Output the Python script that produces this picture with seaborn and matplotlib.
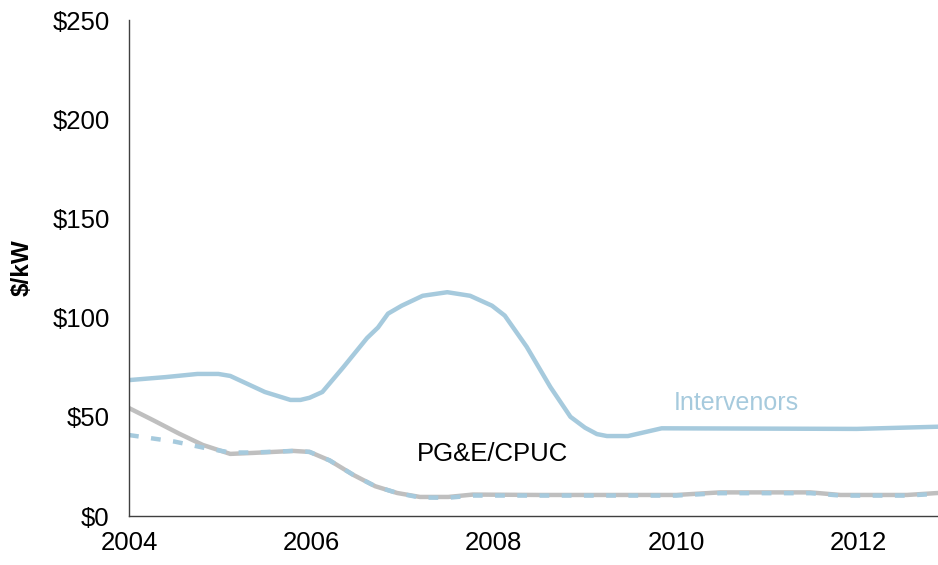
import numpy as np
import pandas as pd
import matplotlib
matplotlib.use("Agg")
import matplotlib.pyplot as plt
import seaborn as sns

# ---- data ----
interv_year = [2004.0, 2004.4, 2004.75, 2004.98, 2005.11, 2005.49, 2005.77, 2005.88,
               2005.98, 2006.12, 2006.35, 2006.61, 2006.73, 2006.84, 2006.99, 2007.22,
               2007.49, 2007.74, 2007.98, 2008.12, 2008.36, 2008.62, 2008.84, 2009.0,
               2009.13, 2009.24, 2009.47, 2009.84, 2011.98, 2012.87]
interv_val = [68.5, 70.0, 71.6, 71.6, 70.6, 62.5, 58.5, 58.5,
              59.6, 62.5, 75.0, 89.7, 95.0, 102.0, 106.0, 111.0,
              112.8, 111.0, 106.0, 101.0, 85.3, 65.0, 50.0, 44.5,
              41.3, 40.3, 40.3, 44.2, 43.9, 45.0]

pge_year = [2004.0, 2004.26, 2004.55, 2004.81, 2005.11, 2005.36, 2005.8, 2005.98,
            2006.2, 2006.46, 2006.7, 2006.94, 2007.19, 2007.5, 2007.77, 2008.5,
            2010.0, 2010.48, 2011.47, 2011.8, 2012.53, 2012.87]
pge_val = [54.4, 48.4, 41.5, 35.8, 31.3, 31.8, 32.8, 32.3,
           28.0, 20.7, 15.0, 11.6, 9.6, 9.6, 10.8, 10.6,
           10.6, 11.9, 11.9, 10.6, 10.6, 11.6]

dash_year = [2004.0, 2004.5, 2004.81, 2005.11, 2005.36, 2005.8, 2005.98,
             2006.2, 2006.46, 2006.7, 2006.94, 2007.19, 2007.5, 2007.77, 2008.5,
             2010.0, 2010.48, 2011.47, 2011.8, 2012.53, 2012.87]
dash_val = [40.8, 37.5, 34.5, 32.0, 32.0, 32.8, 32.3,
            28.0, 20.7, 15.0, 11.6, 9.3, 9.2, 10.3, 10.3,
            10.3, 11.5, 11.5, 10.3, 10.3, 11.2]

x_ticks = [2004, 2006, 2008, 2010, 2012]
y_ticks = [0, 50, 100, 150, 200, 250]

blue = "#a6cadd"
grey = "#bfbfbf"
axis_col = "#404040"

sns.set_style("white")
plt.rcParams["font.family"] = ["Liberation Sans", "DejaVu Sans"]

fig = plt.figure(figsize=(9.38, 5.65), dpi=100)
ax = fig.add_axes([129 / 938, 1 - 516 / 565, 1 - 129 / 938, (516 - 20) / 565])

sns.lineplot(x=pge_year, y=pge_val, ax=ax, color=grey, linewidth=3.2)
sns.lineplot(x=dash_year, y=dash_val, ax=ax, color=blue, linewidth=3.2,
             linestyle=(0, (2.2, 2.8)))
sns.lineplot(x=interv_year, y=interv_val, ax=ax, color=blue, linewidth=3.2)

ax.set_xlim(2004, 2012.87)
ax.set_ylim(0, 250)
ax.set_xticks(x_ticks)
ax.set_xticklabels([str(t) for t in x_ticks])
ax.set_yticks(y_ticks)
ax.set_yticklabels([f"${t}" for t in y_ticks])

sns.despine(ax=ax)
for side in ["left", "bottom"]:
    ax.spines[side].set_color(axis_col)
    ax.spines[side].set_linewidth(1.0)
ax.tick_params(axis="both", direction="out", length=6, width=1.0, color=axis_col,
               labelsize=18.5, labelcolor="black", pad=5)
ax.tick_params(axis="y", pad=8)

ax.set_ylabel("$/kW", fontsize=17.5, fontweight="bold", color="black")
ax.yaxis.set_label_coords(-0.118, 0.5)
ax.set_xlabel("")

ax.text(2010.66, 57, "Intervenors", color=blue, fontsize=18, ha="center", va="center")
ax.text(2007.98, 31.5, "PG&E/CPUC", color="black", fontsize=18.5, ha="center", va="center")

fig.savefig("out.png", dpi=100)
